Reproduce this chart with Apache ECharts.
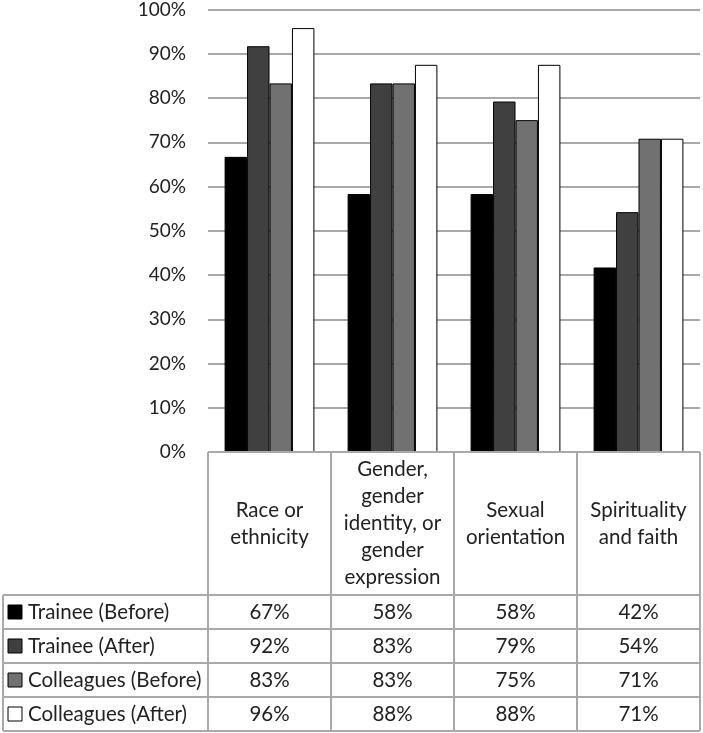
<!DOCTYPE html>
<html><head><meta charset="utf-8">
<script src="https://cdn.jsdelivr.net/npm/echarts@6/dist/echarts.min.js"></script>
<style>html,body{margin:0;padding:0;background:#fff}#c{width:703px;height:733px}</style>
</head><body><div id="c"></div>
<script>
// ---- data ----
const categories = ['Race or\nethnicity', 'Gender,\ngender\nidentity, or\ngender\nexpression', 'Sexual\norientation', 'Spirituality\nand faith'];
const seriesNames = ['Trainee (Before)', 'Trainee (After)', 'Colleagues (Before)', 'Colleagues (After)'];
const traineeBefore = [66.7, 58.3, 58.3, 41.7];
const traineeAfter = [91.7, 83.3, 79.2, 54.2];
const colleaguesBefore = [83.3, 83.3, 75.0, 70.8];
const colleaguesAfter = [95.8, 87.5, 87.5, 70.8];
const yMin = 0, yMax = 100, yStep = 10;

// ---- style ----
const colors = ['#000000', '#404040', '#717171', '#ffffff'];
const FONT = 'Lato';
const FS = 20.5;
const AXFS = 19;
const TXT = '#222222';
const LINE = '#a9a9a9';

const seriesData = [traineeBefore, traineeAfter, colleaguesBefore, colleaguesAfter];
const chart = echarts.init(document.getElementById('c'), null, {renderer: 'canvas'});
chart.setOption({
  animation: false,
  backgroundColor: '#fff',
  grid: {left: 208, right: 3, top: 8, bottom: 281, containLabel: false},
  xAxis: {type: 'category', data: categories, axisLine: {show: false}, axisTick: {show: false}, axisLabel: {show: false}},
  yAxis: {
    type: 'value', min: yMin, max: yMax, interval: yStep,
    axisLabel: {formatter: '{value}%', margin: 22, fontSize: AXFS, color: TXT, fontFamily: FONT},
    splitLine: {lineStyle: {color: LINE, width: 2}},
    axisLine: {show: false}, axisTick: {show: false}
  },
  series: seriesData.map((d, i) => ({
    type: 'bar', name: seriesNames[i], data: d, barGap: 0, barCategoryGap: '27%',
    itemStyle: {color: colors[i], borderColor: '#000', borderWidth: 1}
  }))
});

// ---- data table ----
const headerH = 143, rowH = 34, tableLeft = 3;
const c0 = chart.convertToPixel({xAxisIndex: 0}, 0);
const c1 = chart.convertToPixel({xAxisIndex: 0}, 1);
const band = c1 - c0;
const centers = categories.map((_, i) => chart.convertToPixel({xAxisIndex: 0}, i));
const edges = centers.map(c => c - band / 2).concat([centers[centers.length - 1] + band / 2]);
const yTop = chart.convertToPixel({yAxisIndex: 0}, yMin);
const yHead = yTop + headerH;
const yBottom = yHead + rowH * seriesNames.length;
const right = edges[edges.length - 1];
const els = [];
const line = (x1, y1, x2, y2) => els.push({type: 'line', shape: {x1, y1, x2, y2}, style: {stroke: LINE, lineWidth: 2}, z: 10});
line(edges[0], yTop, right, yTop);
for (let k = 0; k <= seriesNames.length; k++) line(tableLeft, yHead + rowH * k, right, yHead + rowH * k);
edges.forEach(x => line(x, yTop, x, yBottom));
line(tableLeft, yHead, tableLeft, yBottom);
categories.forEach((c, i) => els.push({
  type: 'text', x: centers[i], y: yTop + headerH / 2, z: 11,
  style: {text: c, fill: TXT, font: FS + 'px ' + FONT, align: 'center', verticalAlign: 'middle', lineHeight: 27}
}));
seriesNames.forEach((n, r) => {
  const cy = yHead + rowH * r + rowH / 2;
  els.push({type: 'rect', shape: {x: 8, y: cy - 7, width: 14, height: 14}, style: {fill: colors[r], stroke: '#000', lineWidth: 1}, z: 11});
  els.push({type: 'text', x: 28, y: cy, z: 11, style: {text: n, fill: TXT, font: FS + 'px ' + FONT, align: 'left', verticalAlign: 'middle'}});
  seriesData[r].forEach((v, i) => els.push({
    type: 'text', x: centers[i], y: cy, z: 11,
    style: {text: Math.round(v) + '%', fill: TXT, font: FS + 'px ' + FONT, align: 'center', verticalAlign: 'middle'}
  }));
});
chart.setOption({graphic: {elements: els}});
</script></body></html>
